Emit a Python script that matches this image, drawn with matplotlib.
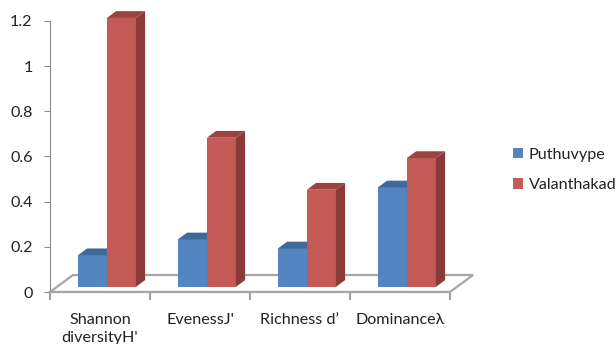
import numpy as np
import matplotlib.pyplot as plt
from matplotlib.patches import Polygon, Patch

plt.rcParams['font.family'] = ['Lato', 'DejaVu Sans']

categories = ["Shannon\ndiversityH'", "EvenessJ'", "Richness d\u2019", "Dominance\u03bb"]
series = ["Puthuvype", "Valanthakad"]
puthuvype = [0.14, 0.21, 0.17, 0.44]
valanthakad = [1.19, 0.66, 0.43, 0.57]
yticks = [0, 0.2, 0.4, 0.6, 0.8, 1, 1.2]

# front / top / side shades for each series
shades = {
    "Puthuvype": ("#5485c0", "#40699a", "#385d8a"),
    "Valanthakad": ("#c45a56", "#9c4341", "#8a3a39"),
}
grey = "#8c8c8c"
txt = "#222222"
fs = 11.6

W, H = 616, 344
fig = plt.figure(figsize=(W / 100, H / 100), dpi=100)
ax = fig.add_axes([50 / W, 52 / H, 440 / W, 287 / H])
ax.set_xlim(0.5, 4.9)
ax.set_ylim(0, 287 / 226)

# oblique depth of the floor, in data units (px -> data)
px_x = 0.01
px_y = 1 / 226
depth = np.array([23 * px_x, 17 * px_y])
front_frac, back_frac = 0.3, 0.7
bar_w = 0.29

n = len(categories)
x0, x1 = 0.5, n + 0.5

# floor
floor = Polygon([(x0, 0), (x1, 0), (x1 + depth[0], depth[1]), (x0 + depth[0], depth[1])],
                closed=True, facecolor="white", edgecolor="#a6a6a6", lw=1.6, zorder=1)
ax.add_patch(floor)


def draw_bar(xl, val, name):
    front, top, side = shades[name]
    off = depth * front_frac
    d = depth * (back_frac - front_frac)
    xl = xl + off[0]
    base = off[1]
    ax.bar(xl, val, width=bar_w, bottom=base, align="edge",
           color=front, edgecolor="none", zorder=3)
    xr = xl + bar_w
    yt = base + val
    ax.add_patch(Polygon([(xl, yt), (xr, yt), (xr + d[0], yt + d[1]), (xl + d[0], yt + d[1])],
                         closed=True, facecolor=top, edgecolor="none", zorder=3))
    ax.add_patch(Polygon([(xr, base), (xr + d[0], base + d[1]), (xr + d[0], yt + d[1]), (xr, yt)],
                         closed=True, facecolor=side, edgecolor="none", zorder=3))


centers = np.arange(1, n + 1)
for i in range(n):
    draw_bar(centers[i] - bar_w, puthuvype[i], series[0])
    draw_bar(centers[i], valanthakad[i], series[1])

# axes
for s in ["top", "right"]:
    ax.spines[s].set_visible(False)
ax.spines["left"].set_bounds(0, 1.2)
ax.spines["left"].set_color(grey)
ax.spines["bottom"].set_bounds(x0, x1)
ax.spines["bottom"].set_color("#a6a6a6")
ax.spines["bottom"].set_linewidth(1.6)
ax.spines["left"].set_zorder(0)

ax.set_yticks(yticks)
ax.set_yticklabels([f"{t:g}" for t in yticks])
ax.tick_params(axis="y", length=4, color=grey, pad=8.5, labelsize=fs, labelcolor=txt)

ax.set_xticks(centers)
ax.set_xticklabels(categories)
ax.set_xticks(np.arange(x0, x1 + 0.01, 1), minor=True)
ax.tick_params(axis="x", which="major", length=0, pad=15, labelsize=fs, labelcolor=txt)
ax.tick_params(axis="x", which="minor", length=6, color=grey, width=1.2)
for lab in ax.get_xticklabels():
    lab.set_linespacing(1.4)
    lab.set_verticalalignment("top")

handles = [Patch(facecolor=shades[s][0], label=s) for s in series]
fig.legend(handles=handles, loc="center left", bbox_to_anchor=(498 / W, 1 - 170 / H),
           frameon=False, fontsize=fs, handlelength=0.65, handleheight=0.65,
           handletextpad=0.35, labelspacing=1.05, labelcolor=txt)

fig.savefig("out.png", dpi=100)
